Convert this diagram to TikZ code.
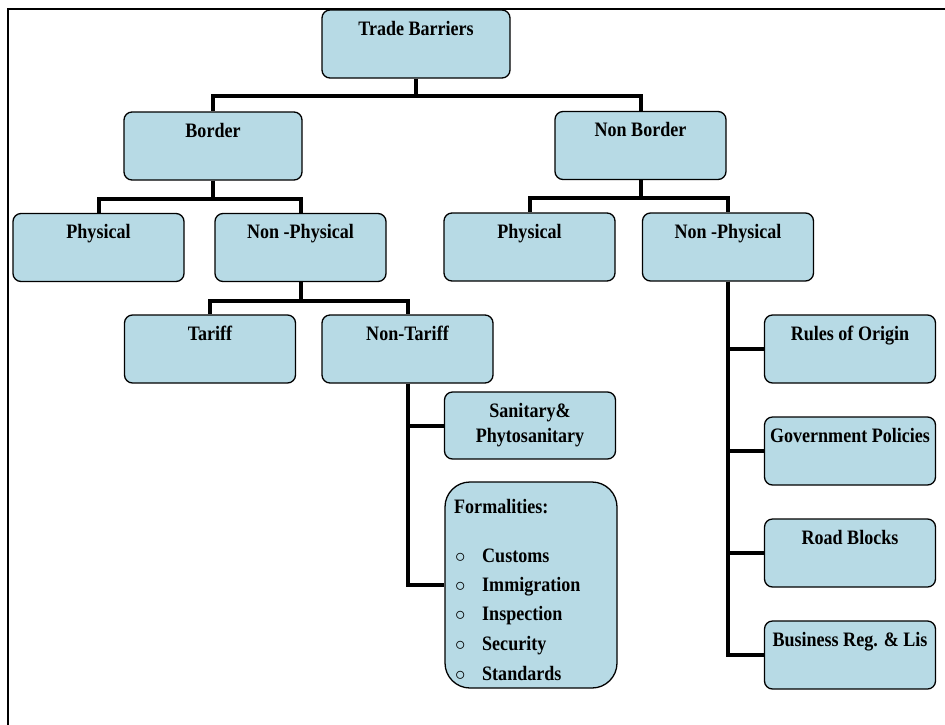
\documentclass[tikz,border=0pt]{standalone}
\usepackage{fontspec}
\setmainfont{Liberation Serif}[FakeStretch=0.88]
\usepackage{tikz}
\definecolor{barrierblue}{RGB}{183,218,229}
\tikzstyle{barrier}=[draw, fill=barrierblue, rounded corners=8pt, line width=1.3pt, minimum width=171pt, inner sep=0pt, text height=25pt, text depth=43pt, font=\fontsize{20.5}{25}\selectfont\bfseries]
\tikzstyle{link}=[line width=4pt]
\tikzstyle{formline}=[anchor=base west, inner sep=0pt, font=\fontsize{20.5}{25}\selectfont\bfseries]

\begin{document}
\begin{tikzpicture}[x=1pt, y=-1pt]
                    \useasboundingbox (0,0) rectangle (945,724);
                    \draw[line width=2.5pt] (8,9) rectangle (960,740);
                    \node[barrier, minimum width=188pt] (tb) at (416, 44) {Trade Barriers};
                    \node[barrier, minimum width=178pt] (border)    at (213, 146) {Border};
                    \node[barrier] (nonborder) at (640.5, 145.5) {Non Border};
                    \node[barrier] (phys1)  at ( 98.5, 247.5) {Physical};
                    \node[barrier] (nphys1) at (300.5, 247.5) {Non -Physical};
                    \node[barrier] (phys2)  at (529.5, 247) {Physical};
                    \node[barrier] (nphys2) at (728, 247) {Non -Physical};
                    \node[barrier] (tariff)  at (210, 349) {Tariff};
                    \node[barrier] (ntariff) at (407.5, 349) {Non-Tariff};
                    \node[barrier, text depth=42pt] (sps) at (530, 425.5) {\begin{tabular}[t]{@{}c@{}}Sanitary\&\\Phytosanitary\end{tabular}};
                    \node[barrier, rounded corners=25pt, minimum width=172pt, minimum height=206pt, text height=0pt, text depth=0pt] (form) at (531, 585) {};
                    \node[barrier] (rules) at (850, 349) {Rules of Origin};
                    \node[barrier] (gov)   at (850, 451) {Government Policies};
                    \node[barrier] (road)  at (850, 553) {Road Blocks};
                    \node[barrier] (biz)   at (850, 655) {Business Reg. \& Lis};
                    \node[formline] (fhead) at (454, 513) {Formalities:};
                    \begin{scope}
                    \clip (440, 470) rectangle (620, 680);
                    \node[formline] (f1) at (455, 562) {\makebox[27pt][l]{$\circ$}Customs};
                    \node[formline] (f2) at (455, 591) {\makebox[27pt][l]{$\circ$}Immigration};
                    \node[formline] (f3) at (455, 620) {\makebox[27pt][l]{$\circ$}Inspection};
                    \node[formline] (f4) at (455, 650) {\makebox[27pt][l]{$\circ$}Security};
                    \node[formline] (f5) at (455, 680) {\makebox[27pt][l]{$\circ$}Standards};
                    \end{scope}
                    \draw[link] (tb.south) -- ++(0,17) -| (border.north);
                    \draw[link] (tb.south) -- ++(0,17) -| (nonborder.north);
                    \draw[link] (border.south) -- ++(0,18) -| (phys1.north);
                    \draw[link] (border.south) -- ++(0,18) -| (nphys1.north);
                    \draw[link] (nonborder.south) -- ++(0,18) -| (phys2.north);
                    \draw[link] (nonborder.south) -- ++(0,18) -| (nphys2.north);
                    \draw[link] (nphys1.south) -- ++(0,19) -| (tariff.north);
                    \draw[link] (nphys1.south) -- ++(0,19) -| (ntariff.north);
                    \draw[link] (ntariff.south) |- (sps.west);
                    \draw[link] (ntariff.south) |- (form.west);
                    \draw[link] (nphys2.south) |- (rules.west);
                    \draw[link] (nphys2.south) |- (gov.west);
                    \draw[link] (nphys2.south) |- (road.west);
                    \draw[link] (nphys2.south) |- (biz.west);
                \end{tikzpicture}
\end{document}
